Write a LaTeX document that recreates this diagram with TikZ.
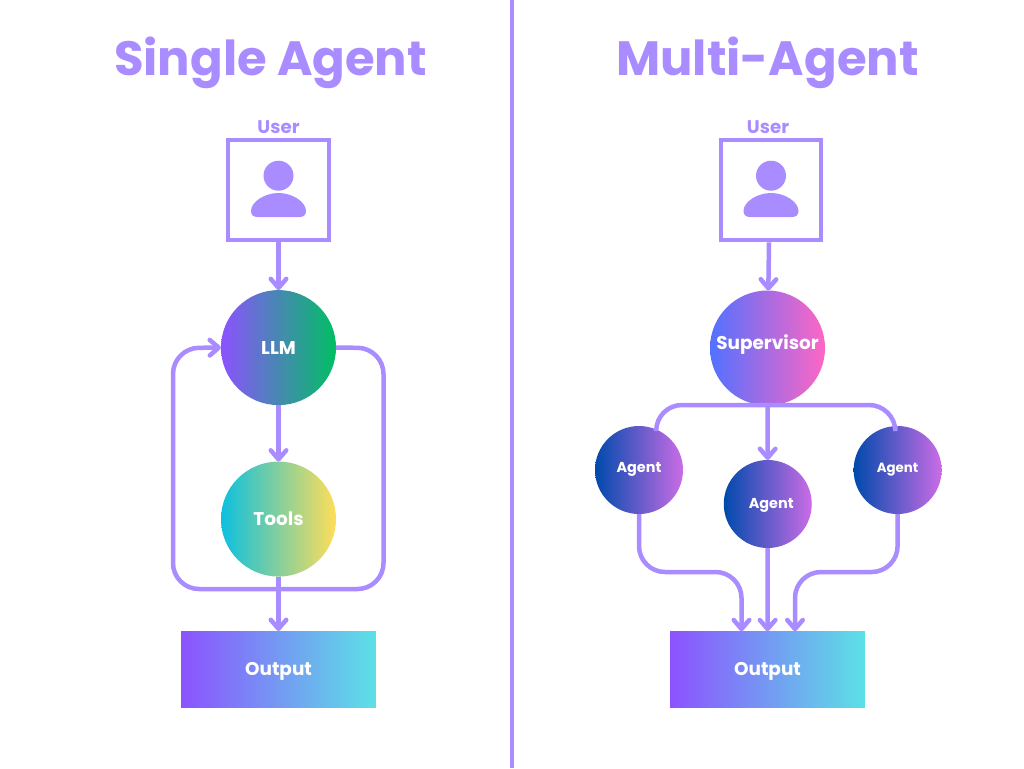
\documentclass[tikz,border=0pt]{standalone}
\usepackage{fontspec}
\setmainfont{Poppins}
\usetikzlibrary{positioning,arrows.meta}
\definecolor{lilac}{HTML}{A98CFF}
\newcommand{\nudge}[2]{\raisebox{#1}[\height][\depth]{#2}}
\tikzset{
    >={Straight Barb[length=1.8mm,width=3.1mm,round]},
    flow/.style={draw=lilac, line width=0.09cm, rounded corners=5.2mm},
    userbox/.style={draw=lilac, line width=0.085cm, minimum size=2.01cm},
    blob/.style={circle, inner sep=0pt, outer sep=0pt, text=white, font=\fontsize{10.5}{12}\selectfont\bfseries},
    bigblob/.style={blob, minimum size=2.3cm},
    agent/.style={blob, minimum size=1.76cm, font=\fontsize{8.2}{10}\selectfont\bfseries, left color=agentl, right color=agentr},
    outbox/.style={inner sep=0pt, outer sep=0pt, minimum width=3.9cm, minimum height=1.53cm, left color=outl, right color=outr, text=white, font=\fontsize{10.5}{12}\selectfont\bfseries},
    heading/.style={text=lilac, inner sep=0pt, font=\fontsize{27.4}{32}\selectfont\bfseries},
    caption/.style={text=lilac, inner sep=0pt, font=\fontsize{10.4}{12}\selectfont\bfseries},
    usericon/.pic={
        \fill[lilac] (0,-14.3) circle (0.3cm);
        \fill[lilac] (-27.5,21) .. controls (-27.5,12) and (-14,3) .. (0,3) .. controls (14,3) and (27.5,12) .. (27.5,21) .. controls (27.5,25) and (25,27) .. (21,27) -- (-21,27) .. controls (-25,27) and (-27.5,25) .. (-27.5,21) -- cycle;
    }
}
\definecolor{agentl}{HTML}{004AAD}
\definecolor{agentr}{HTML}{CB6CE6}
\definecolor{outl}{HTML}{8C52FF}
\definecolor{outr}{HTML}{5CE1E6}
\begin{document}
\begin{tikzpicture}[x=0.02cm, y=-0.02cm]
    \useasboundingbox[fill=white] (0,0) rectangle (1024,768);
    \coordinate (top) at (512,0);
    \coordinate (bottom) at (512,768);
    \draw[lilac, line width=0.07cm] (top) -- (bottom);

    \node[heading] (titlel) at (270.5,62.5) {Single Agent};
    \node[heading] (titler) at (767.5,62.5) {Multi-Agent};

    \node[userbox] (userl) at (278.5,190) {};
    \node[caption, above=0.75mm of userl] (captionl) {User};
    \pic at (userl.center) {usericon};
    \node[bigblob, below=0.955cm of userl, left color={rgb,255:red,140;green,82;blue,255}, right color={rgb,255:red,0;green,191;blue,99}] (llm) {LLM};
    \node[bigblob, below=1.13cm of llm, left color={rgb,255:red,12;green,192;blue,223}, right color={rgb,255:red,255;green,222;blue,89}] (tools) {Tools};
    \node[outbox, below=1.09cm of tools] (outputl) {\nudge{-0.04cm}{Output}};
    \coordinate (loopa) at (383.5,348);
    \coordinate (loopb) at (383.5,589);
    \coordinate (loopc) at (173,589);
    \coordinate (loopd) at (173,348);
    \draw[flow, ->] (userl) -- (llm);
    \draw[flow, ->] (llm) -- (tools);
    \draw[flow, ->] (tools) -- (outputl);
    \draw[flow, ->] (llm.east) -- (loopa) -- (loopb) -- (loopc) -- (loopd) -- (llm.west);

    \node[userbox] (userr) at (771,190) {};
    \node[caption, above=0.75mm of userr, xshift=-0.06cm] (captionr) {User};
    \pic at (userr.center) {usericon};
    \node[bigblob, left color={rgb,255:red,82;green,113;blue,255}, right color={rgb,255:red,255;green,102;blue,196}] (sup) at (767.5,348) {\nudge{0.06cm}{Supervisor}};
    \node[agent] (agenta) at (639,470) {\nudge{0.015cm}{Agent}};
    \node[agent] (agentb) at (767.75,504) {\hspace{0.14cm}\nudge{-0.02cm}{Agent}};
    \node[agent, font=\fontsize{7.6}{10}\selectfont\bfseries] (agentc) at (897.6,470) {\nudge{0.015cm}{Agent}};
    \node[outbox] (outputr) at (767.5,669.5) {\nudge{-0.04cm}{Output}};
    \coordinate (busa) at (656,405);
    \coordinate (busb) at (895,405);
    \coordinate (joina) at (639,572);
    \coordinate (joinb) at (741.5,572);
    \coordinate (joinc) at (897.6,572);
    \coordinate (joind) at (795,572);
    \draw[flow, ->] (userr.south -| 769,0) -- (sup);
    \draw[flow] (agenta.67) -- (busa) -- (busb) -- (agentc.93);
    \draw[flow, ->] (sup) -- (agentb);
    \draw[flow, ->] (agenta) -- (joina) -- (joinb) -- (joinb |- outputr.north);
    \draw[flow, ->] (agentb) -- (outputr);
    \draw[flow, ->] (agentc) -- (joinc) -- (joind) -- (joind |- outputr.north);
\end{tikzpicture}
\end{document}
